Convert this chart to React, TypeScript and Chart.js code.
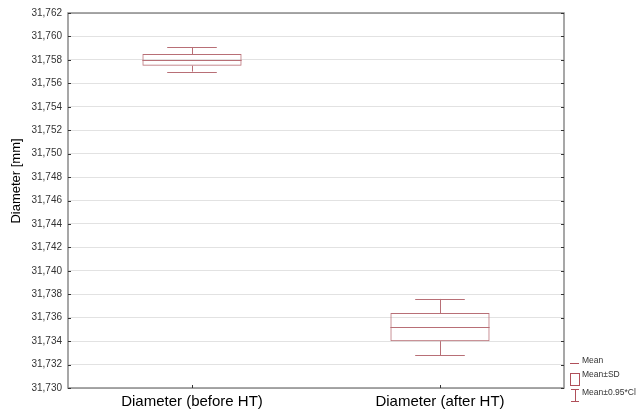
import React, { useEffect, useRef } from "react";
import { Chart, registerables } from "chart.js";

Chart.register(...registerables);

const categories = ["Diameter (before HT)", "Diameter (after HT)"];
const means = [31.758, 31.7352];
const sdLow = [31.7575, 31.734];
const sdHigh = [31.7585, 31.7364];
const ciLow = [31.757, 31.7328];
const ciHigh = [31.7591, 31.7376];
const yTicks = [31.73, 31.732, 31.734, 31.736, 31.738, 31.74, 31.742, 31.744, 31.746, 31.748, 31.75, 31.752, 31.754, 31.756, 31.758, 31.76, 31.762];
const legendLabels = ["Mean", "Mean\u00b1SD", "Mean\u00b10.95*Cl"];
const yTitle = "Diameter [mm]";

const BOX = "#b86f76";
const LEG = "#b0505a";
const FONT = "'Liberation Sans', Arial, sans-serif";

const boxPlugin = {
  id: "boxExtras",
  afterDatasetsDraw(chart: any) {
    const { ctx, chartArea: a, scales } = chart;
    const x = scales.x;
    const y = scales.y;
    ctx.save();
    ctx.strokeStyle = BOX;
    ctx.lineWidth = 1;
    const catW = (a.right - a.left) / categories.length;
    categories.forEach((_, i) => {
      const cx = x.getPixelForValue(i);
      const bw = catW * 0.4;
      const ww = catW * 0.2;
      const pm = y.getPixelForValue(means[i]);
      const p1 = y.getPixelForValue(sdHigh[i]);
      const p2 = y.getPixelForValue(sdLow[i]);
      const w1 = y.getPixelForValue(ciHigh[i]);
      const w2 = y.getPixelForValue(ciLow[i]);
      ctx.beginPath();
      ctx.moveTo(cx - bw / 2, Math.round(pm) + 0.5);
      ctx.lineTo(cx + bw / 2, Math.round(pm) + 0.5);
      ctx.moveTo(Math.round(cx) + 0.5, p1);
      ctx.lineTo(Math.round(cx) + 0.5, w1);
      ctx.moveTo(cx - ww / 2, Math.round(w1) + 0.5);
      ctx.lineTo(cx + ww / 2, Math.round(w1) + 0.5);
      ctx.moveTo(Math.round(cx) + 0.5, p2);
      ctx.lineTo(Math.round(cx) + 0.5, w2);
      ctx.moveTo(cx - ww / 2, Math.round(w2) + 0.5);
      ctx.lineTo(cx + ww / 2, Math.round(w2) + 0.5);
      ctx.stroke();
    });
    // frame
    ctx.strokeStyle = "#8a8a8a";
    ctx.lineWidth = 1.5;
    ctx.strokeRect(a.left, a.top, a.right - a.left, a.bottom - a.top);
    // inner ticks
    ctx.strokeStyle = "#333";
    ctx.lineWidth = 1;
    ctx.beginPath();
    yTicks.forEach((v) => {
      const py = Math.round(y.getPixelForValue(v)) + 0.5;
      ctx.moveTo(a.left, py);
      ctx.lineTo(a.left + 3, py);
      ctx.moveTo(a.right, py);
      ctx.lineTo(a.right - 3, py);
    });
    categories.forEach((_, i) => {
      const px = Math.round(x.getPixelForValue(i)) + 0.5;
      ctx.moveTo(px, a.bottom);
      ctx.lineTo(px, a.bottom - 3);
    });
    ctx.stroke();
    // y title
    ctx.save();
    ctx.translate(16, 181);
    ctx.rotate(-Math.PI / 2);
    ctx.fillStyle = "#000";
    ctx.font = "13px " + FONT;
    ctx.textAlign = "center";
    ctx.textBaseline = "middle";
    ctx.fillText(yTitle, 0, 0);
    ctx.restore();
    // legend
    const lx = a.right + 6;
    const b = Math.round(a.bottom);
    ctx.strokeStyle = LEG;
    ctx.lineWidth = 1;
    ctx.beginPath();
    ctx.moveTo(lx, b - 24.5);
    ctx.lineTo(lx + 9, b - 24.5);
    ctx.stroke();
    ctx.strokeRect(lx + 0.5, b - 14.5, 9, 12);
    ctx.beginPath();
    ctx.moveTo(lx + 1, b + 1.5);
    ctx.lineTo(lx + 9, b + 1.5);
    ctx.moveTo(lx + 5.5, b + 1.5);
    ctx.lineTo(lx + 5.5, b + 13.5);
    ctx.moveTo(lx + 1, b + 13.5);
    ctx.lineTo(lx + 9, b + 13.5);
    ctx.stroke();
    ctx.fillStyle = "#333";
    ctx.font = "8.5px " + FONT;
    ctx.textBaseline = "middle";
    ctx.fillText(legendLabels[0], lx + 12, b - 27);
    ctx.fillText(legendLabels[1], lx + 12, b - 13);
    ctx.fillText(legendLabels[2], lx + 12, b + 5);
    ctx.restore();
  },
};

export default function App() {
  const ref = useRef<HTMLCanvasElement>(null);
  useEffect(() => {
    if (!ref.current) return;
    const chart = new Chart(ref.current, {
      type: "bar",
      data: {
        labels: categories,
        datasets: [
          {
            label: "Mean\u00b1SD",
            data: categories.map((_, i) => [sdLow[i], sdHigh[i]]) as any,
            backgroundColor: "rgba(0,0,0,0)",
            borderColor: BOX,
            borderWidth: 1,
            borderSkipped: false,
            barPercentage: 0.4,
            categoryPercentage: 1,
          },
        ],
      },
      options: {
        animation: false,
        responsive: false,
        maintainAspectRatio: false,
        layout: { padding: { top: 13, right: 76, left: 0, bottom: 0 } },
        plugins: { legend: { display: false }, tooltip: { enabled: false } },
        scales: {
          x: {
            grid: { display: false, drawTicks: false },
            border: { display: false },
            ticks: {
              color: "#000",
              font: { family: FONT, size: 15 },
              padding: 5,
            },
            afterFit: (s: any) => {
              s.height = 21;
            },
          },
          y: {
            min: 31.73,
            max: 31.762,
            grid: { color: "#e2e2e2", drawTicks: false },
            border: { display: false },
            afterBuildTicks: (s: any) => {
              s.ticks = yTicks.map((v) => ({ value: v }));
            },
            ticks: {
              color: "#333",
              padding: 6,
              font: { family: FONT, size: 10 },
              callback: (v: any) => Number(v).toFixed(3).replace(".", ","),
            },
            afterFit: (s: any) => {
              s.width = 68;
            },
          },
        },
      },
      plugins: [boxPlugin],
    });
    return () => chart.destroy();
  }, []);
  return (
    <div style={{ position: "fixed", left: 0, top: 0, width: 640, height: 409, background: "#fff" }}>
      <canvas ref={ref} width={640} height={409} style={{ width: 640, height: 409 }} />
    </div>
  );
}
